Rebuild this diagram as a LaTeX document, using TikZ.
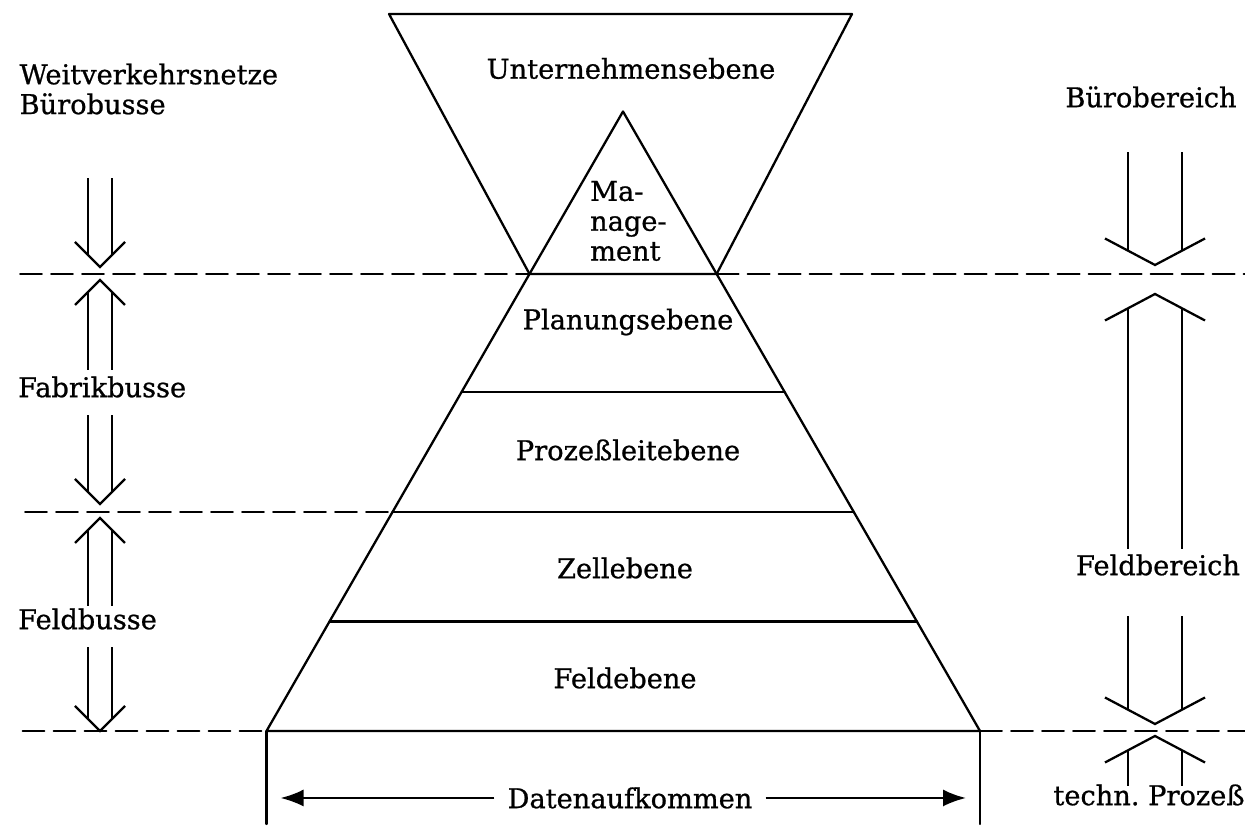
\documentclass[tikz,border=0pt]{standalone}
\usepackage{fontspec}
\setmainfont{DejaVu Serif}[FakeBold=0.8]
\usepackage{tikz}
\usepackage{tkz-euclide}
\usetikzlibrary{
    calc,
    arrows.meta
}
\tikzset{
    ebene/.style={font=\fontsize{15.5}{17}\selectfont, inner sep=0pt},
    trenn/.style={dash pattern=on 0.44cm off 0.18cm, line width=1.1pt},
    % Doppelpfeile (Spitze im Ursprung, Schaft nach oben)
    pics/linkspfeil/.style={code={
        \draw (-0.5,0.5) -- (0,0) -- (0.5,0.5);
        \draw (-0.24,0.24) -- (-0.24,#1) (0.24,0.24) -- (0.24,#1);
    }},
    pics/rechtspfeil/.style={code={
        \draw (-1,0.53) -- (0,0) -- (1,0.53);
        \draw (-0.54,0.29) -- (-0.54,#1) (0.54,0.29) -- (0.54,#1);
    }},
}

\begin{document}
\begin{tikzpicture}[line width=1.3pt, line join=miter]
    \useasboundingbox (0,0) rectangle (24.9,16.6);
    \tkzDefPoints{7.78/16.32/T,17.04/16.32/U,12.46/14.37/S,5.33/1.98/A,19.60/1.98/B}
    \coordinate (M1) at ($(S)!0.2623!(A)$);
    \coordinate (N1) at ($(S)!0.2623!(B)$);
    \coordinate (M2) at ($(S)!0.4528!(A)$);
    \coordinate (N2) at ($(S)!0.4528!(B)$);
    \coordinate (M3) at ($(S)!0.6465!(A)$);
    \coordinate (N3) at ($(S)!0.6465!(B)$);
    \coordinate (M4) at ($(S)!0.8232!(A)$);
    \coordinate (N4) at ($(S)!0.8232!(B)$);
    \tkzDrawPolygons[line width=1.3pt](T,U,N1,M1 S,B,A)
    \tkzDrawSegments[line width=1.3pt](M2,N2 M3,N3 M4,N4)
    % Trennlinien
    \tkzDefPoints{0.40/11.12/L1,24.90/11.12/R1,0.50/6.36/L2,0.45/1.98/L3,24.90/1.98/R3,5.33/0.12/A0,19.60/0.12/B0}
    \tkzDrawSegments[trenn](L1,M1 N1,R1 L2,M3 L3,A B,R3)
    \tkzDrawSegments[line width=1.3pt](A,A0 B,B0)
    % Ebenen
    \node[ebene] (unternehmen) at (12.62,15.23) {Unternehmensebene};
    \node[ebene, align=left, anchor=west] (management) at (11.78,12.18) {Ma-\\nage-\\ment};
    \node[ebene] (planung) at (12.56,10.16) {Planungsebene};
    \node[ebene] (prozess) at (12.56,7.60) {Prozeßleitebene};
    \node[ebene] (zelle) at (12.50,5.24) {Zellebene};
    \node[ebene] (feld) at (12.50,3.04) {Feldebene};
    \node[ebene, inner xsep=0.24cm] (daten) at (12.60,0.64) {Datenaufkommen};
    \coordinate (DL) at (5.61,0.64);
    \coordinate (DR) at (19.32,0.64);
    \draw[-{Latex[length=4.6mm,width=3.4mm]}] (daten.west) -- (DL);
    \draw[-{Latex[length=4.6mm,width=3.4mm]}] (daten.east) -- (DR);
    % Bussysteme links
    \node[ebene, align=left, anchor=west] (weitverkehr) at (0.37,14.82) {Weitverkehrsnetze\\Bürobusse};
    \node[ebene, anchor=west] (fabrik) at (0.34,8.86) {Fabrikbusse};
    \node[ebene, anchor=west] (feldbus) at (0.34,4.22) {Feldbusse};
    \foreach \y/\l in {11.26/1.78, 6.52/1.77, 1.98/1.67}
        \pic at (2.00,\y) {linkspfeil=\l};
    \foreach \y/\l in {11.00/1.80, 6.24/1.77}
        \pic[rotate=180] at (2.00,\y) {linkspfeil=\l};
    % Bereiche rechts
    \node[ebene] (buero) at (23.02,14.66) {Bürobereich};
    \node[ebene] (feldbereich) at (23.16,5.30) {Feldbereich};
    \node[ebene] (technik) at (22.98,0.70) {techn.\ Prozeß};
    \foreach \y/\l in {11.30/2.26, 2.12/2.16}
        \pic at (23.10,\y) {rechtspfeil=\l};
    \foreach \y/\l in {10.72/5.10, 1.88/1.00}
        \pic[rotate=180] at (23.10,\y) {rechtspfeil=\l};
\end{tikzpicture}
\end{document}
